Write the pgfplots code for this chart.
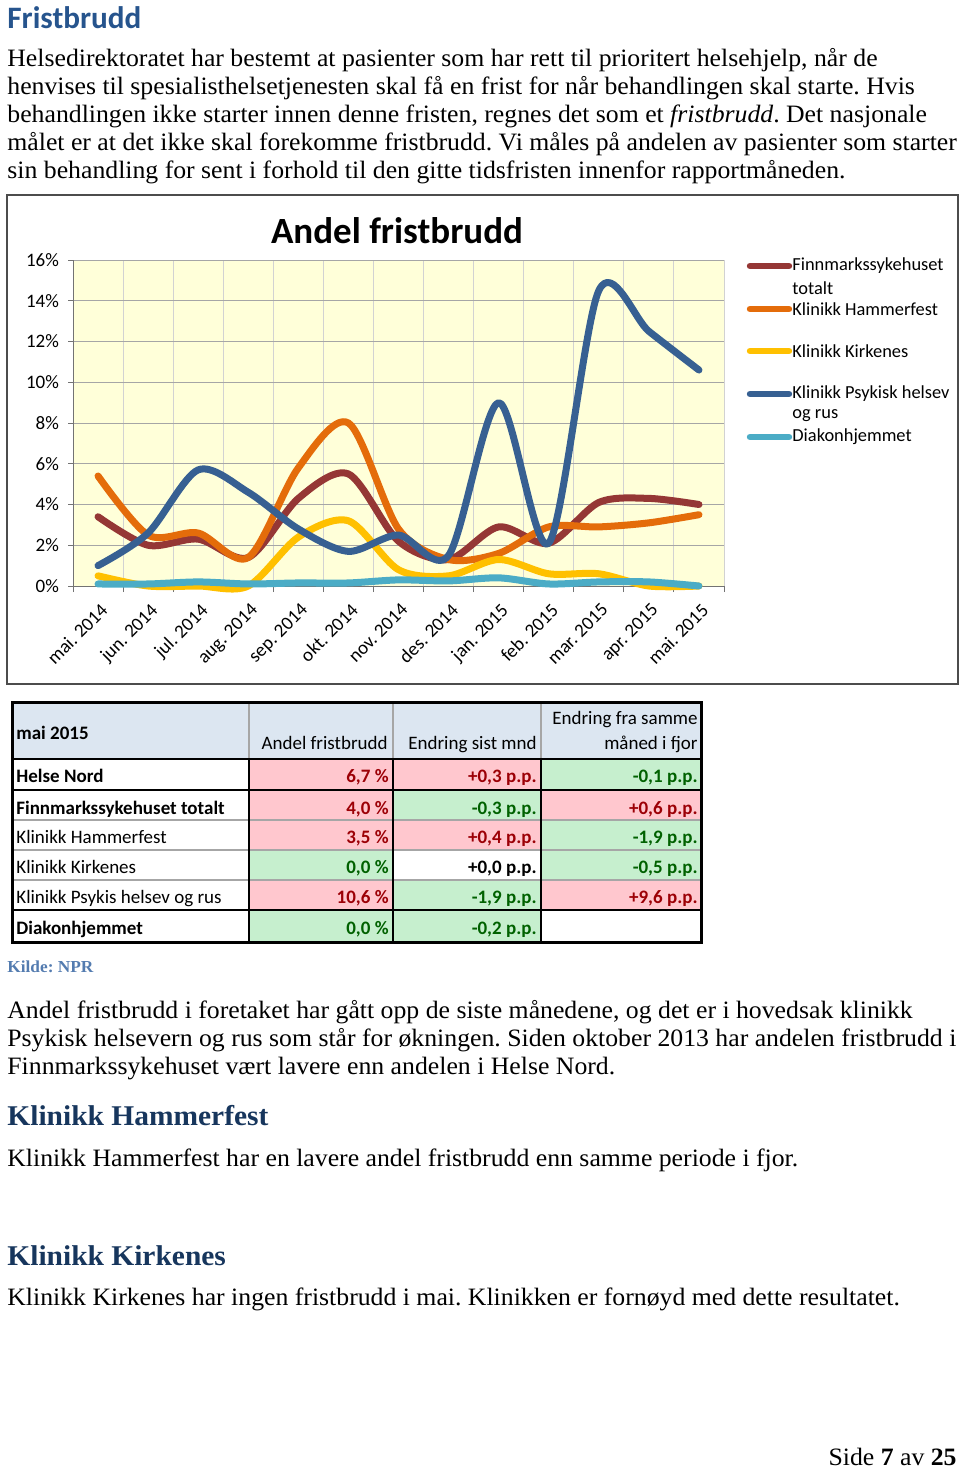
\documentclass[border=0pt]{standalone}
\usepackage{fontspec}
\setmainfont{Liberation Serif}[FakeStretch=1.03]
\newfontfamily\carl{Carlito}
\usepackage{pgfplots}
\pgfplotsset{compat=1.18}
\definecolor{cFin}{RGB}{149,55,53}
\definecolor{cHam}{RGB}{228,108,10}
\definecolor{cKir}{RGB}{255,192,0}
\definecolor{cPsy}{RGB}{55,96,146}
\definecolor{cDia}{RGB}{75,172,198}
\definecolor{cBg}{RGB}{255,255,217}
\definecolor{hBlue}{RGB}{38,84,141}
\definecolor{hDark}{RGB}{23,54,93}
\definecolor{kilde}{RGB}{84,124,176}
\definecolor{pinkF}{RGB}{255,199,206}
\definecolor{pinkT}{RGB}{156,0,6}
\definecolor{greenF}{RGB}{198,239,206}
\definecolor{greenT}{RGB}{0,97,0}
\definecolor{headF}{RGB}{220,230,241}

\pgfplotstableread{
x Fin Ham Kir Psy Dia
0 3.4 5.4 0.5 1.0 0.10
1 2.0 2.5 0.0 2.6 0.10
2 2.3 2.6 0.0 5.7 0.20
3 1.4 1.4 0.0 4.6 0.10
4 4.3 5.8 2.4 2.8 0.15
5 5.5 8.0 3.2 1.7 0.15
6 2.2 2.8 0.8 2.5 0.30
7 1.3 1.3 0.5 1.5 0.25
8 2.9 1.6 1.3 9.0 0.40
9 2.1 2.9 0.6 2.1 0.10
10 4.1 2.9 0.6 14.5 0.20
11 4.3 3.1 0.0 12.5 0.20
12 4.0 3.5 0.0 10.6 0.00
}\datatab

\newcommand{\bodyf}{\fontsize{12.5pt}{14pt}\selectfont}
\newcommand{\tfont}{\carl\fontsize{9.5pt}{11pt}\selectfont}
\frenchspacing

\begin{document}
\frenchspacing
\begin{tikzpicture}
\begin{scope}[x=0.5pt,y=-0.5pt]
\path[use as bounding box] (0,0) rectangle (960,1468);
% heading
\node[anchor=base west,inner sep=0,text=hBlue,font=\carl\bfseries\fontsize{15.6pt}{18pt}\selectfont] at (7,28) {Fristbrudd};
% paragraph 1
\node[anchor=base west,inner sep=0,font=\bodyf] at (7,66) {Helsedirektoratet har bestemt at pasienter som har rett til prioritert helsehjelp, når de};
\node[anchor=base west,inner sep=0,font=\bodyf] at (7,94) {henvises til spesialisthelsetjenesten skal få en frist for når behandlingen skal starte. Hvis};
\node[anchor=base west,inner sep=0,font=\bodyf] at (7,122) {behandlingen ikke starter innen denne fristen, regnes det som et \textit{fristbrudd}. Det nasjonale};
\node[anchor=base west,inner sep=0,font=\bodyf] at (7,150) {målet er at det ikke skal forekomme fristbrudd. Vi måles på andelen av pasienter som starter};
\node[anchor=base west,inner sep=0,font=\bodyf] at (7,178) {sin behandling for sent i forhold til den gitte tidsfristen innenfor rapportmåneden.};
% chart frame
\draw[line width=1pt,draw=black!70] (7,195) rectangle (958,684);
\node[anchor=base,inner sep=0,font=\carl\bfseries\fontsize{18.5pt}{20pt}\selectfont] at (397,243) {Andel fristbrudd};
% legend
\foreach \yy/\cc in {266/cFin,309/cHam,351/cKir,394/cPsy,437/cDia}{
  \draw[line width=3.2pt,line cap=round,draw=\cc] (750,\yy) -- (789,\yy);
}
\foreach \yy/\txt in {266/Finnmarkssykehuset,288/totalt,309/Klinikk Hammerfest,351/Klinikk Kirkenes,394/Klinikk Psykisk helsev,416/og rus,437/Diakonhjemmet}{
  \node[anchor=west,inner sep=0,font=\carl\fontsize{9.2pt}{10pt}\selectfont] at (792,\yy) {\txt};
}
% table fills
\fill[headF] (12,702) rectangle (701,759);
\fill[pinkF] (249,759) rectangle (393,790);
\fill[pinkF] (393,759) rectangle (541,790);
\fill[greenF] (541,759) rectangle (701,790);
\fill[pinkF] (249,790) rectangle (393,820);
\fill[greenF] (393,790) rectangle (541,820);
\fill[pinkF] (541,790) rectangle (701,820);
\fill[pinkF] (249,820) rectangle (393,850);
\fill[pinkF] (393,820) rectangle (541,850);
\fill[greenF] (541,820) rectangle (701,850);
\fill[greenF] (249,850) rectangle (393,880);
\fill[greenF] (541,850) rectangle (701,880);
\fill[pinkF] (249,880) rectangle (393,910);
\fill[greenF] (393,880) rectangle (541,910);
\fill[pinkF] (541,880) rectangle (701,910);
\fill[greenF] (249,910) rectangle (393,942);
\fill[greenF] (393,910) rectangle (541,942);
% table lines
\draw[gray!70,line width=0.6pt] (249,702) -- (249,759) (393,702) -- (393,759) (541,702) -- (541,759);
\draw[gray!70,line width=0.6pt] (12,820) -- (701,820) (12,850) -- (701,850) (12,880) -- (701,880);
\draw[black,line width=0.9pt] (249,759) -- (249,942) (393,759) -- (393,942) (541,759) -- (541,942);
\draw[black,line width=1.4pt] (12,759) -- (701,759) (12,790) -- (701,790) (12,910) -- (701,910);
\draw[black,line width=1.5pt] (12,702) rectangle (701,942);
% table text
\node[anchor=base west,inner sep=0,font=\tfont\bfseries] at (16,739) {mai 2015};
\node[anchor=base east,inner sep=0,font=\tfont] at (388,749) {Andel fristbrudd};
\node[anchor=base east,inner sep=0,font=\tfont] at (537,749) {Endring sist mnd};
\node[anchor=base east,inner sep=0,font=\tfont] at (698,724) {Endring fra samme};
\node[anchor=base east,inner sep=0,font=\tfont] at (698,749) {måned i fjor};
\node[anchor=base west,inner sep=0,font=\tfont\bfseries] at (16,782) {Helse Nord};
\node[anchor=base west,inner sep=0,font=\tfont\bfseries] at (16,814) {Finnmarkssykehuset totalt};
\node[anchor=base west,inner sep=0,font=\tfont] at (16,843) {Klinikk Hammerfest};
\node[anchor=base west,inner sep=0,font=\tfont] at (16,873) {Klinikk Kirkenes};
\node[anchor=base west,inner sep=0,font=\tfont] at (16,903) {Klinikk Psykis helsev og rus};
\node[anchor=base west,inner sep=0,font=\tfont\bfseries] at (16,934) {Diakonhjemmet};
\foreach \yy/\va/\cA/\vb/\cB/\vc/\cC in {782/{6,7 \%}/pinkT/{+0,3 p.p.}/pinkT/{-0,1 p.p.}/greenT,
  814/{4,0 \%}/pinkT/{-0,3 p.p.}/greenT/{+0,6 p.p.}/pinkT,
  843/{3,5 \%}/pinkT/{+0,4 p.p.}/pinkT/{-1,9 p.p.}/greenT,
  873/{0,0 \%}/greenT/{+0,0 p.p.}/black/{-0,5 p.p.}/greenT,
  903/{10,6 \%}/pinkT/{-1,9 p.p.}/greenT/{+9,6 p.p.}/pinkT,
  934/{0,0 \%}/greenT/{-0,2 p.p.}/greenT/{}/black}{
  \node[anchor=base east,inner sep=0,font=\tfont\bfseries,text=\cA] at (389,\yy) {\va};
  \node[anchor=base east,inner sep=0,font=\tfont\bfseries,text=\cB] at (537,\yy) {\vb};
  \node[anchor=base east,inner sep=0,font=\tfont\bfseries,text=\cC] at (698,\yy) {\vc};
}
\node[anchor=base west,inner sep=0,text=kilde,font=\bfseries\fontsize{8.4pt}{10pt}\selectfont] at (7,972) {Kilde: NPR};
% paragraph 2
\node[anchor=base west,inner sep=0,font=\bodyf] at (7,1018) {Andel fristbrudd i foretaket har gått opp de siste månedene, og det er i hovedsak klinikk};
\node[anchor=base west,inner sep=0,font=\bodyf] at (7,1046) {Psykisk helsevern og rus som står for økningen. Siden oktober 2013 har andelen fristbrudd i};
\node[anchor=base west,inner sep=0,font=\bodyf] at (7,1074) {Finnmarkssykehuset vært lavere enn andelen i Helse Nord.};
\node[anchor=base west,inner sep=0,text=hDark,font=\bfseries\fontsize{14.3pt}{17pt}\selectfont] at (7,1125) {Klinikk Hammerfest};
\node[anchor=base west,inner sep=0,font=\bodyf] at (7,1166) {Klinikk Hammerfest har en lavere andel fristbrudd enn samme periode i fjor.};
\node[anchor=base west,inner sep=0,text=hDark,font=\bfseries\fontsize{14.3pt}{17pt}\selectfont] at (7,1265) {Klinikk Kirkenes};
\node[anchor=base west,inner sep=0,font=\bodyf] at (7,1305) {Klinikk Kirkenes har ingen fristbrudd i mai. Klinikken er fornøyd med dette resultatet.};
\node[anchor=base east,inner sep=0,font=\bodyf] at (957,1465) {Side \textbf{7} av \textbf{25}};
\end{scope}

\begin{axis}[
  scale only axis, width=325.5pt, height=163pt,
  at={(36.5pt,-293pt)}, anchor=south west,
  xmin=-0.5, xmax=12.5, ymin=0, ymax=16,
  axis lines*=left,
  axis line style={draw=gray!90!black,line width=0.5pt},
  axis background/.style={fill=cBg},
  xtick={0,...,12},
  xticklabels={mai. 2014,jun. 2014,jul. 2014,aug. 2014,sep. 2014,okt. 2014,nov. 2014,des. 2014,jan. 2015,feb. 2015,mar. 2015,apr. 2015,mai. 2015},
  major x tick style={draw=none},
  minor xtick={-0.5,0.5,...,12.5},
  xminorgrids=true, xmajorgrids=false,
  minor x grid style={draw=gray!35,line width=0.5pt},
  ytick={0,2,...,16},
  ymajorgrids=true,
  y grid style={draw=gray!70,line width=0.5pt},
  yticklabel={\pgfmathprintnumber{\tick}\%},
  tick align=outside,
  major tick length=2.5pt, minor tick length=3pt,
  tick style={draw=gray!90!black,line width=0.5pt},
  /pgf/number format/assume math mode=true,
  y tick label style={font=\carl\fontsize{9.5pt}{11pt}\selectfont, xshift=-1pt},
  x tick label style={font=\carl\fontsize{9.5pt}{11pt}\selectfont, rotate=45, anchor=north east, yshift=-1pt},
  clip=false,
  every axis plot/.append style={smooth, line width=3.5pt, line cap=round, line join=round, no markers},
]
\addplot[cFin] table[x=x,y=Fin]{\datatab};
\addplot[cHam] table[x=x,y=Ham]{\datatab};
\addplot[cKir] table[x=x,y=Kir]{\datatab};
\addplot[cPsy] table[x=x,y=Psy]{\datatab};
\addplot[cDia] table[x=x,y=Dia]{\datatab};
\end{axis}
\end{tikzpicture}
\end{document}
